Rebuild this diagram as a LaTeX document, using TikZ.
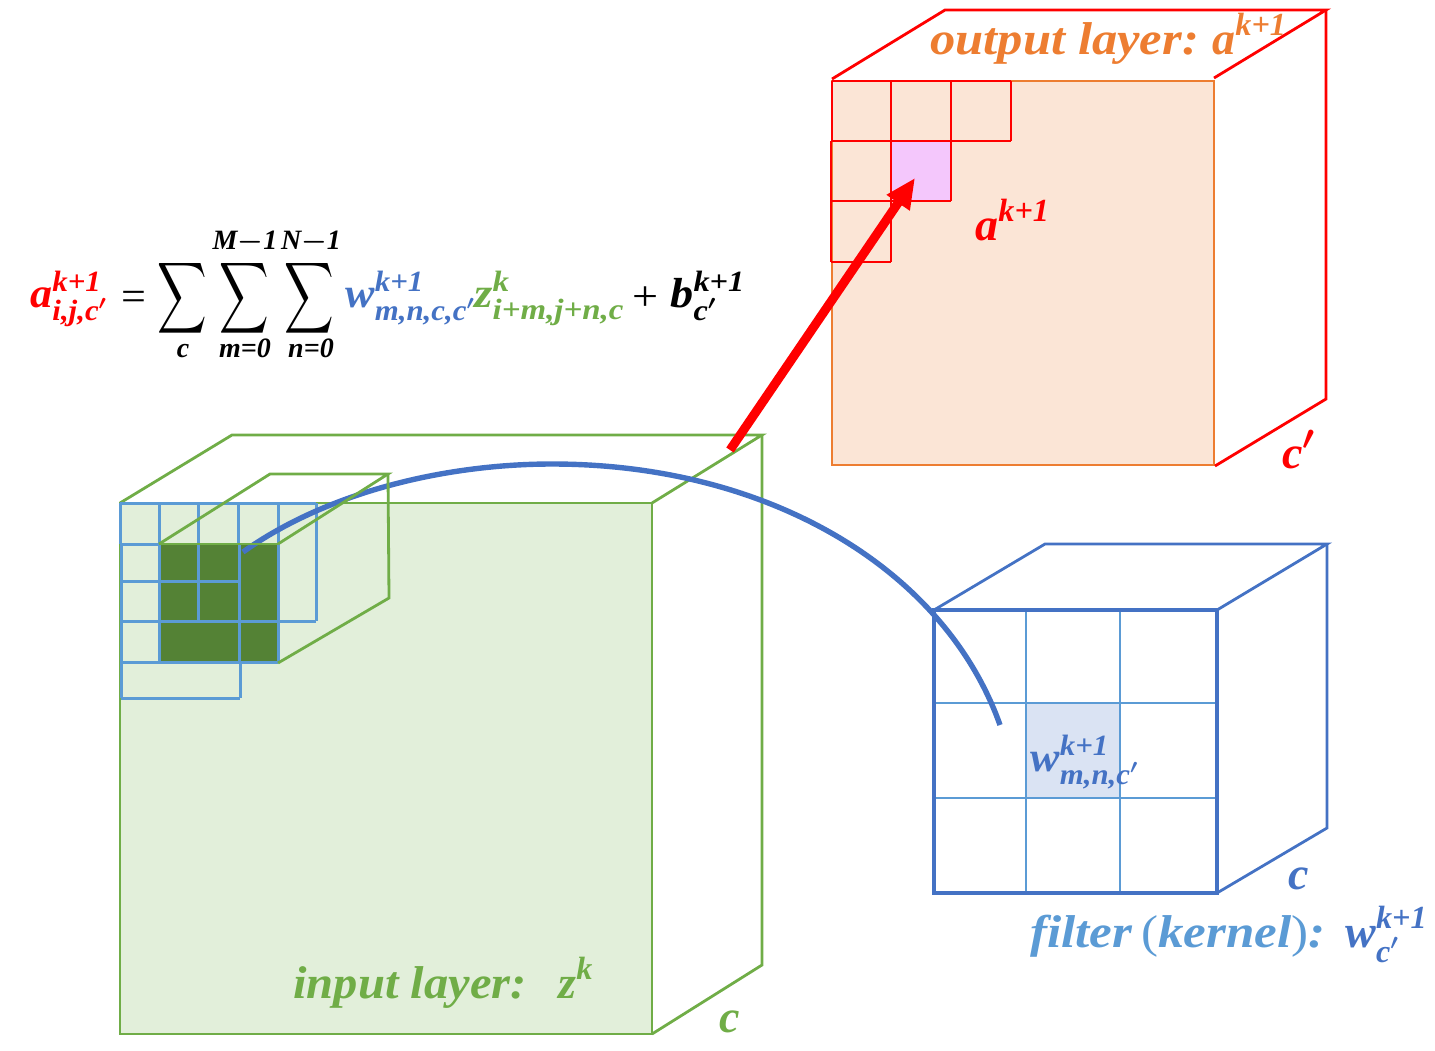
\documentclass[tikz,border=0pt]{standalone}
\usepackage{amsmath}
\usepackage{fontspec}
\setmainfont{Liberation Serif}
\usetikzlibrary{arrows.meta}
\definecolor{ingreen}{HTML}{70AD47}
\definecolor{infill}{HTML}{E2EFDA}
\definecolor{indark}{HTML}{548235}
\definecolor{gridblue}{HTML}{5B9BD5}
\definecolor{kerblue}{HTML}{4472C4}
\definecolor{kerfill}{HTML}{DAE3F3}
\definecolor{outorange}{HTML}{ED7D31}
\definecolor{outfill}{HTML}{FBE5D6}
\definecolor{outpink}{HTML}{F4C7FC}
\newcommand{\bigsum}{\scalebox{0.69}[1]{$\displaystyle\sum$}}
\newcommand{\scrpt}[2]{$^{\text{#1}}_{\text{#2}}$}
\newcommand{\cprime}{c$'$}
\newcommand{\wider}[2]{\scalebox{#1}[1]{#2}}
\begin{document}
\begin{tikzpicture}[x=0.5pt,y=-0.5pt,
  lbl/.style={inner sep=0pt,anchor=base west,font=\boldmath\bfseries\itshape\fontsize{23}{28}\selectfont},
  eqn/.style={inner sep=0pt,anchor=base west,font=\boldmath\bfseries\itshape\fontsize{21}{25}\selectfont},
  lim/.style={inner sep=0pt,anchor=base,font=\boldmath\bfseries\itshape\fontsize{14}{17}\selectfont},
  sigma/.style={inner sep=0pt,font=\fontsize{24}{28}\selectfont}]
\useasboundingbox (0,0) rectangle (1435,1050);
% input layer
\filldraw[ingreen,fill=infill,line width=1.4pt] (120,503) rectangle (652,1034);
\draw[ingreen,line width=1.4pt] (120,503) -- (232,435) -- (762,435) -- (652,503);
\draw[ingreen,line width=1.4pt] (762,435) -- (762,965) -- (652,1034);
\fill[indark] (159,544) rectangle (278,663);
\foreach \x in {120,159,198,238,278,316} \draw[gridblue,line width=1.5pt] (\x,503) -- (\x,544);
\foreach \x in {121,159,198,239,278,316} \draw[gridblue,line width=1.5pt] (\x,544) -- (\x,621);
\foreach \x in {121,159,239,278} \draw[gridblue,line width=1.5pt] (\x,621) -- (\x,662);
\foreach \x in {121,240} \draw[gridblue,line width=1.5pt] (\x,662) -- (\x,698);
\draw[gridblue,line width=1.5pt] (120,503) -- (316,503);
\draw[gridblue,line width=1.5pt] (120,544) -- (159,544);
\draw[gridblue,line width=1.5pt] (121,581) -- (240,581);
\draw[gridblue,line width=1.5pt] (121,621) -- (316,621);
\draw[gridblue,line width=1.5pt] (121,662) -- (278,662);
\draw[gridblue,line width=1.5pt] (121,698) -- (240,698);
% output layer
\filldraw[outorange,fill=outfill,line width=1.3pt] (832,81) rectangle (1214,465);
\fill[outpink] (891,141) rectangle (951,201);
\draw[red,line width=1.4pt] (832,79) -- (945,10) -- (1326,10) -- (1214,78);
\draw[red,line width=1.4pt] (1326,10) -- (1326,399) -- (1215,466);
\foreach \x in {832,891,951,1011} \draw[red,line width=1.4pt] (\x,81) -- (\x,141);
\foreach \x in {831,891,951} \draw[red,line width=1.4pt] (\x,141) -- (\x,201);
\foreach \x in {831,891} \draw[red,line width=1.4pt] (\x,201) -- (\x,262);
\draw[red,line width=1.4pt] (832,81) -- (1011,81);
\draw[red,line width=1.4pt] (831,141) -- (1011,141);
\draw[red,line width=1.4pt] (831,201) -- (951,201);
\draw[red,line width=1.4pt] (831,262) -- (891,262);
% filter
\fill[kerfill] (1026,703) rectangle (1120,798);
\foreach \x in {1026,1120} \draw[gridblue,line width=1.2pt] (\x,610) -- (\x,893);
\foreach \y in {703,798} \draw[gridblue,line width=1.2pt] (934,\y) -- (1217,\y);
\draw[kerblue,line width=2pt] (934,610) rectangle (1217,893);
\draw[kerblue,line width=1.4pt] (934,610) -- (1045,544) -- (1327,544) -- (1217,610);
\draw[kerblue,line width=1.4pt] (1327,544) -- (1327,828) -- (1217,893);
% connectors
\coordinate (curvestart) at (243,552);
\coordinate (curvetop) at (552,464);
\coordinate (curveend) at (1000,725);
\coordinate (arrowstart) at (730,450);
\coordinate (arrowtip) at (915,178);
\draw[kerblue,line width=2.7pt] (curvestart) .. controls (330,490) and (450,464) .. (curvetop) .. controls (770,464) and (945,570) .. (curveend);
\draw[red,line width=4.5pt,-{Triangle[length=15pt,width=13pt]}] (arrowstart) -- (arrowtip);
% small box on the input layer
\draw[ingreen,line width=1.4pt] (159,544) -- (278,544);
\draw[ingreen,line width=1.4pt] (159,544) -- (270,474) -- (388,474) -- (278,544);
\draw[ingreen,line width=1.4pt] (388,474) -- (389,598) -- (278,663);
% labels
\node[lbl,text=outorange] (outlabel) at (930,54) {\wider{1.1}{output layer:}};
\node[lbl,text=outorange] (outsymbol) at (1212,54) {a$^{\text{k+1}}$};
\node[lbl,text=red] (outcell) at (975,240) {a$^{\text{k+1}}$};
\node[lbl,text=red] (outdepth) at (1282,468) {c$'$};
\node[lbl,text=ingreen] (inlabel) at (293,998) {\wider{1.055}{input layer:}};
\node[lbl,text=ingreen] (insymbol) at (558,998) {z$^{\text{k}}$};
\node[lbl,text=ingreen] (indepth) at (719,1032) {c};
\node[lbl,text=kerblue] (kerdepth) at (1288,889) {c};
\node[eqn,text=kerblue] (kercell) at (1030,771) {\wider{1.05}{w\scrpt{k+1}{m,n,\cprime}}};
\node[lbl,text=gridblue] (kerlabel) at (1030,947) {\wider{1.11}{filter\,\textup{\mdseries(}kernel\textup{\mdseries)}:}};
\node[lbl,text=kerblue] (kername) at (1345,947) {w\scrpt{k+1}{\cprime}};
% formula
\node[eqn,text=red] (eqa) at (30,307) {\wider{1.05}{a\scrpt{k+1}{i,j,\cprime}}};
\node[eqn] (eqequal) at (121,310) {\wider{1.05}{\textup{\mdseries=}}};
\node[sigma] (sumc) at (182,298) {\bigsum};
\node[sigma] (summ) at (244,298) {\bigsum};
\node[sigma] (sumn) at (309,298) {\bigsum};
\node[lim] (limc) at (183,357) {c};
\node[lim] (limm) at (245,357) {m=0};
\node[lim] (limn) at (311,357) {n=0};
\node[lim] (limM) at (245,249) {M$-$1};
\node[lim] (limN) at (311,249) {N$-$1};
\node[eqn,text=kerblue] (eqw) at (345,307) {\wider{1.05}{w\scrpt{k+1}{m,n,c,\cprime}}};
\node[eqn,text=ingreen] (eqz) at (474,307) {\wider{1.12}{z\scrpt{k}{i+m,j+n,c}}};
\node[eqn] (eqplus) at (632,310) {\wider{1.1}{\textup{\mdseries+}}};
\node[eqn] (eqb) at (670,307) {\wider{1.1}{b\scrpt{k+1}{\cprime}}};
\end{tikzpicture}
\end{document}
